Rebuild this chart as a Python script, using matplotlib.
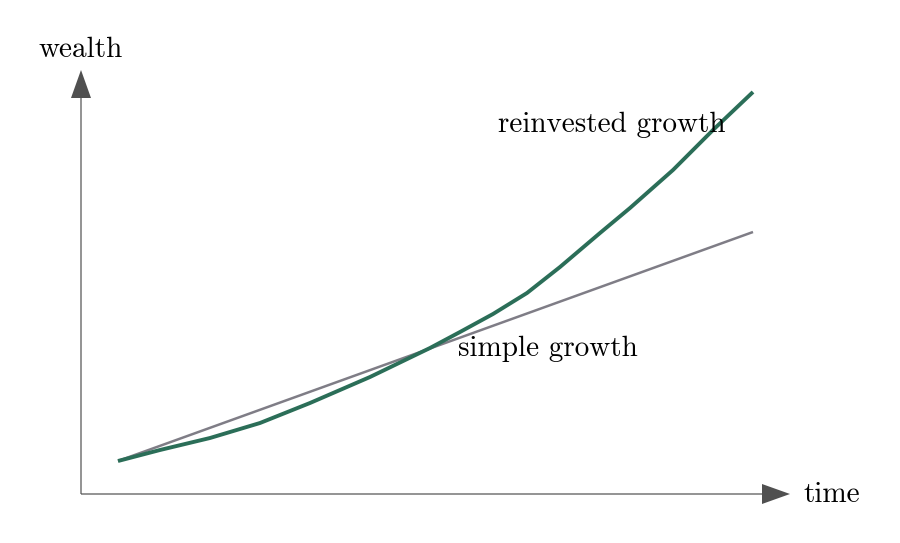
import matplotlib
matplotlib.use("Agg")
import matplotlib.pyplot as plt

# values (axis units, origin at the axes corner)
simple_t = [0.37, 6.72]
simple_w = [0.33, 2.62]

reinvest_t = [0.37, 0.79, 1.29, 1.79, 2.29, 2.89, 3.49, 3.79, 4.12, 4.46,
              4.79, 5.19, 5.49, 5.92, 6.32, 6.72]
reinvest_w = [0.33, 0.44, 0.56, 0.71, 0.91, 1.17, 1.46, 1.62, 1.80, 2.01,
              2.27, 2.61, 2.86, 3.24, 3.64, 4.02]

AXIS_X_END = 7.09
AXIS_Y_END = 4.24

GREEN = "#2b6e58"
GRAY = "#7f7d86"
AXIS = "#505050"
FONT = "cmr10"
FS = 21

fig = plt.figure(figsize=(9, 5.43), dpi=100)
ax = fig.add_axes([0, 0, 1, 1])
ax.set_xlim(-0.81, 8.19)
ax.set_ylim(-0.49, 4.94)
ax.axis("off")

# axes with filled arrowheads
ax.arrow(0, 0, AXIS_X_END, 0, width=0.012, head_width=0.2, head_length=0.28,
         length_includes_head=True, color=AXIS, lw=0)
ax.arrow(0, 0, 0, AXIS_Y_END, width=0.012, head_width=0.2, head_length=0.28,
         length_includes_head=True, color=AXIS, lw=0)

ax.plot(simple_t, simple_w, color=GRAY, lw=1.8, solid_capstyle="butt")
ax.plot(reinvest_t, reinvest_w, color=GREEN, lw=2.8, solid_capstyle="butt",
        solid_joinstyle="round")

ax.text(0, 4.44, "wealth", ha="center", va="center", fontsize=FS, family=FONT)
ax.text(7.22, -0.01, "time", ha="left", va="center", fontsize=FS, family=FONT)
ax.text(5.31, 3.69, "reinvested growth", ha="center", va="center", fontsize=FS, family=FONT)
ax.text(4.67, 1.45, "simple growth", ha="center", va="center", fontsize=FS, family=FONT)

fig.savefig("out.png", dpi=100)
